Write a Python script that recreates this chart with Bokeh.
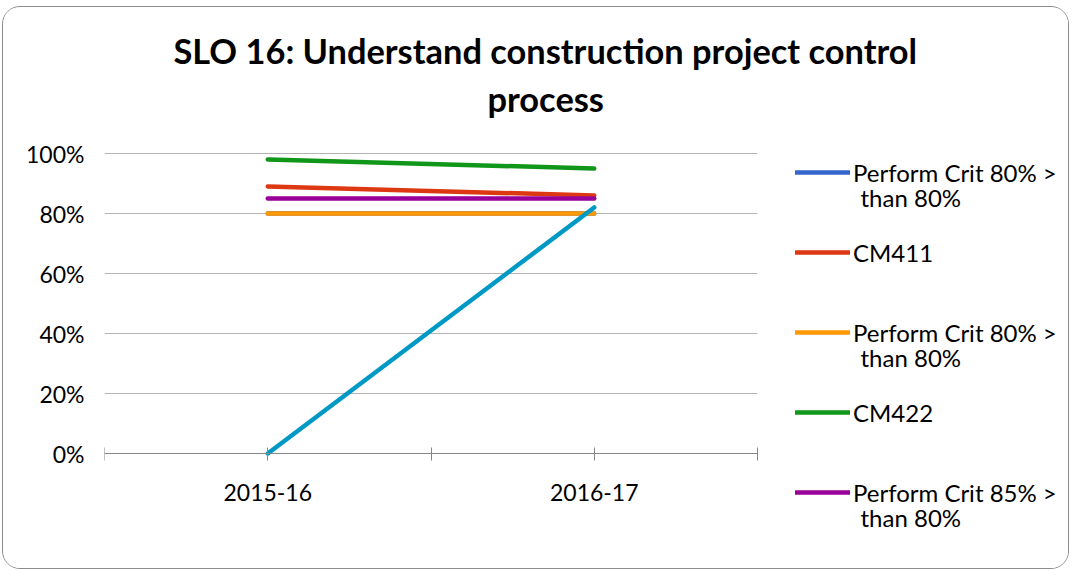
from bokeh.plotting import figure
from bokeh.models import (Range1d, FixedTicker, Legend, LegendItem, Title, Label,
                          NumeralTickFormatter)
from bokeh.embed import file_html
from bokeh.resources import INLINE

# ---------------- data ----------------
years = ["2015-16", "2016-17"]
blue_crit80 = [0.80, 0.80]      # Perform Crit 80% > than 80% (blue, hidden under orange)
cm411 = [0.89, 0.86]
orange_crit80 = [0.80, 0.80]    # Perform Crit 80% > than 80% (orange)
cm422 = [0.98, 0.95]
purple_crit85 = [0.85, 0.85]    # Perform Crit 85% > than 80%
unlabeled = [0.00, 0.82]        # series without legend entry (cyan)
y_ticks = [0.0, 0.2, 0.4, 0.6, 0.8, 1.0]
legend_labels = ["Perform Crit 80% >\nthan 80%", "CM411",
                 "Perform Crit 80% >\nthan 80%", "CM422",
                 "Perform Crit 85% >\nthan 80%"]
title_lines = ["SLO 16: Understand construction project control", "process"]

colors = ["#3366CC", "#DC3912", "#FF9900", "#109618", "#990099"]
cyan = "#0099C6"
FONT = "Lato"

# ---------------- layout (canvas px) ----------------
W, H = 1067, 563
fl, fr, ft, fb = 101, 1060, 133, 556      # frame edges
px_per_x = 653 / len(years)               # plot area for the categories: 653 px wide
px_per_y = 300                            # 0..100 % spans 300 px
zero_from_bottom = fb - 446               # y = 0 sits 110 px above the frame bottom
x_end = (fr - fl) / px_per_x
y_start = -zero_from_bottom / px_per_y
y_end = y_start + (fb - ft) / px_per_y

p = figure(width=W, height=H, output_backend="svg", toolbar_location=None,
           x_range=Range1d(0, x_end), y_range=Range1d(y_start, y_end),
           min_border_left=fl, min_border_right=W - fr,
           min_border_top=ft, min_border_bottom=H - fb,
           background_fill_color="white", border_fill_color="white")
p.outline_line_color = None
p.styles = {"border": "1px solid #8c8c8c", "border-radius": "18px",
            "overflow": "hidden", "margin": "6px 0 0 2px"}

# gridlines limited to the category area
grid_y = y_ticks[1:]
p.segment(x0=[0] * len(grid_y), x1=[len(years)] * len(grid_y), y0=grid_y, y1=grid_y,
          line_color="#b4b4b4", line_width=1, level="underlay")

xs = [i + 0.5 for i in range(len(years))]
series = [blue_crit80, cm411, orange_crit80, cm422, purple_crit85]
renderers = []
for vals, c in zip(series, colors):
    r = p.line(xs, vals, line_color=c, line_width=4.5, line_cap="round")
    renderers.append(r)
p.line(xs, unlabeled, line_color=cyan, line_width=4.5, line_cap="round")

# ---------------- axes ----------------
p.xgrid.visible = False
p.ygrid.visible = False

p.yaxis.ticker = FixedTicker(ticks=y_ticks)
p.yaxis.formatter = NumeralTickFormatter(format="0%")
p.yaxis.axis_line_color = None
p.yaxis.major_tick_line_color = None
p.yaxis.minor_tick_line_color = None
p.yaxis.major_label_standoff = 14
p.yaxis.major_label_text_font = FONT
p.yaxis.major_label_text_font_size = "23px"
p.yaxis.major_label_text_color = "#000000"

xticks = [i * 0.5 for i in range(2 * len(years) + 1)]
p.xaxis.ticker = FixedTicker(ticks=xticks)
overrides = {t: "" for t in xticks}
for x, y in zip(xs, years):
    overrides[x] = y
p.xaxis.major_label_overrides = overrides
p.xaxis.fixed_location = 0
p.xaxis.bounds = (0, len(years))
p.xaxis.axis_line_color = "#868686"
p.xaxis.major_tick_line_color = "#868686"
p.xaxis.minor_tick_line_color = None
p.xaxis.major_tick_in = 6
p.xaxis.major_tick_out = 7
p.xaxis.major_label_standoff = 23
p.xaxis.major_label_text_font = FONT
p.xaxis.major_label_text_font_size = "23px"
p.xaxis.major_label_text_color = "#000000"

# ---------------- title ----------------
p.add_layout(Title(text=title_lines[1], align="left", offset=383, standoff=44,
                   text_font=FONT, text_font_size="34.4px", text_font_style="bold",
                   text_color="#000000"), "above")
p.add_layout(Title(text=title_lines[0], align="left", offset=69, standoff=-34,
                   text_font=FONT, text_font_size="34.4px", text_font_style="bold",
                   text_color="#000000"), "above")

# ---------------- legend ----------------
first_lines = [l.split("\n")[0] for l in legend_labels]
items = [LegendItem(label=t, renderers=[r]) for t, r in zip(first_lines, renderers)]
item_h, pitch = 30, 80
n = len(items)
leg_h = n * item_h + (n - 1) * (pitch - item_h)
first_center = fb - 165                     # first entry centre, px above frame bottom
leg_bottom = first_center + item_h / 2 - leg_h
legend = Legend(items=items, location=(691, leg_bottom),
                glyph_width=55, glyph_height=item_h, label_height=item_h,
                spacing=pitch - item_h, label_standoff=3, padding=0, margin=0,
                border_line_color=None, background_fill_alpha=0,
                label_text_font=FONT, label_text_font_size="24px",
                label_text_color="#000000")
p.add_layout(legend, "center")

for i, lab in enumerate(legend_labels):
    parts = lab.split("\n")
    if len(parts) > 1:
        p.add_layout(Label(x=756, y=first_center - i * pitch - 25,
                           x_units="screen", y_units="screen",
                           text=parts[1], text_baseline="middle", text_align="left",
                           text_font=FONT, text_font_size="24px",
                           text_color="#000000"))

open("out.html", "w").write(file_html(p, INLINE))
